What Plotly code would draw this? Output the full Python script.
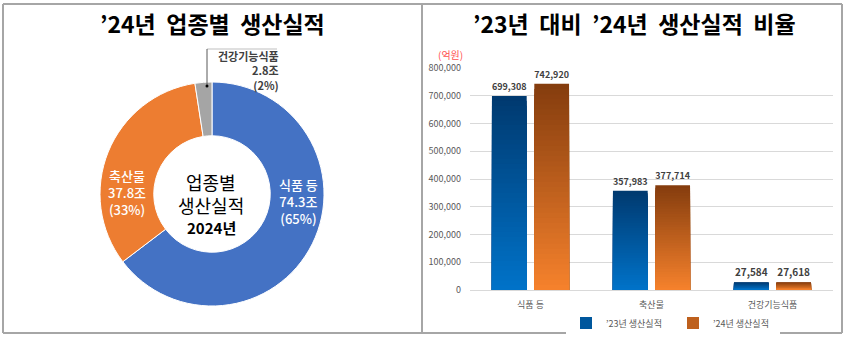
import plotly.graph_objects as go

# ---------------- data ----------------
pie_labels = ["식품 등", "축산물", "건강기능식품"]
pie_values = [74.3, 37.8, 2.8]          # 조원
pie_colors = ["#4472C4", "#ED7D31", "#A5A5A5"]

bar_categories = ["식품 등", "축산물", "건강기능식품"]
prod_2023 = [699308, 357983, 27584]     # 억원
prod_2024 = [742920, 377714, 27618]
series_names = ["’23년 생산실적", "’24년 생산실적"]

W, H = 850, 343
FONT = "Noto Sans CJK KR"


def px(x):
    return x / W


def py(y):
    return 1 - y / H


def lerp_color(c1, c2, t):
    a = [int(c1[i:i + 2], 16) for i in (1, 3, 5)]
    b = [int(c2[i:i + 2], 16) for i in (1, 3, 5)]
    return "rgb(%d,%d,%d)" % tuple(round(a[j] + (b[j] - a[j]) * t) for j in range(3))


fig = go.Figure()

# ---------------- donut ----------------
cx, cy, R = 212, 194, 112
fig.add_trace(go.Pie(
    labels=pie_labels, values=pie_values, hole=0.52, sort=False,
    direction="clockwise", rotation=0,
    marker=dict(colors=pie_colors, line=dict(color="white", width=1)),
    textinfo="none", showlegend=False, hoverinfo="label+value+percent",
    domain=dict(x=[px(cx - R), px(cx + R)], y=[py(cy + R), py(cy - R)]),
))

# ---------------- bars with vertical gradient ----------------
K = 40
grad = {
    0: ("#003A70", "#0072C8"),
    1: ("#853D0E", "#F5812C"),
}
for s, vals in enumerate([prod_2023, prod_2024]):
    top, bot = grad[s]
    for k in range(K):
        frac = (K - k) / K
        col = lerp_color(top, bot, k / (K - 1))
        fig.add_trace(go.Bar(
            x=bar_categories, y=[v * frac for v in vals],
            offsetgroup=str(s), name=series_names[s],
            marker=dict(color=col, line=dict(width=0)),
            showlegend=(k == K // 2), legendgroup=str(s),
            text=[f"{v:,}" for v in vals] if k == 0 else None,
            textposition="outside" if k == 0 else "none",
            textfont=dict(family=FONT, size=10, color="#404040", weight=700),
            cliponaxis=False, hoverinfo="skip" if k else "x+y",
            xaxis="x", yaxis="y",
        ))

fig.update_layout(
    width=W, height=H, margin=dict(l=0, r=0, t=0, b=0),
    paper_bgcolor="white", plot_bgcolor="white",
    font=dict(family=FONT, color="#595959"),
    barmode="group", bargap=0.3, bargroupgap=0.18,
    xaxis=dict(domain=[px(470), px(833)], showgrid=False, showline=False,
               ticks="", tickfont=dict(size=9, color="#595959"),
               ticklabelstandoff=8, fixedrange=True, automargin=False),
    yaxis=dict(domain=[py(290), py(68)], range=[0, 800000], dtick=100000,
               tickformat=",", showgrid=True, gridcolor="#D9D9D9", gridwidth=1,
               zeroline=True, zerolinecolor="#D9D9D9", zerolinewidth=1,
               showline=False, ticks="", ticklabelstandoff=8, automargin=False,
               tickfont=dict(size=9, color="#595959")),
    legend=dict(orientation="h", x=px(566), xanchor="left", y=py(323),
                yanchor="middle", font=dict(size=9, color="#595959"),
                itemwidth=30, entrywidth=62, traceorder="normal"),
)

P = dict(xref="paper", yref="paper", showarrow=False, xanchor="center", yanchor="middle")
ann = []
# titles
ann.append(dict(x=px(212), y=py(23), text="’24년  업종별  생산실적",
                font=dict(size=23, color="black", weight=700), **P))
ann.append(dict(x=px(634), y=py(23), text="’23년  대비  ’24년  생산실적  비율",
                font=dict(size=23, color="black", weight=700), **P))
# unit
ann.append(dict(x=px(450), y=py(55), text="(억원)",
                font=dict(size=10, color="#FF5050"), **P))
# donut labels
ann.append(dict(x=px(298), y=py(201), text="식품 등<br>74.3조<br>(65%)",
                font=dict(size=13, color="white", weight=500), align="center", **P))
ann.append(dict(x=px(127), y=py(192), text="축산물<br>37.8조<br>(33%)",
                font=dict(size=13, color="white", weight=500), align="center", **P))
ann.append(dict(x=px(248), y=py(70), text="건강기능식품<br>2.8조<br>(2%)",
                align="right", font=dict(size=11, color="#404040", weight=700), **P))
ann.append(dict(x=px(211), y=py(182), text="업종별",
                font=dict(size=18, color="black"), **P))
ann.append(dict(x=px(211), y=py(205), text="생산실적",
                font=dict(size=18, color="black"), **P))
ann.append(dict(x=px(211), y=py(227), text="2024년",
                font=dict(size=15, color="black", weight=700), **P))
fig.update_layout(annotations=ann)

shapes = []
border = dict(color="#A6A6A6", width=2)
# panel frames
shapes.append(dict(type="line", xref="paper", yref="paper", x0=px(3), x1=px(842), y0=py(4), y1=py(4), line=border))
shapes.append(dict(type="line", xref="paper", yref="paper", x0=px(3), x1=px(842), y0=py(333), y1=py(333), line=border))
shapes.append(dict(type="line", xref="paper", yref="paper", x0=px(3), x1=px(3), y0=py(4), y1=py(333), line=border))
shapes.append(dict(type="line", xref="paper", yref="paper", x0=px(842), x1=px(842), y0=py(4), y1=py(333), line=border))
shapes.append(dict(type="line", xref="paper", yref="paper", x0=px(422), x1=px(422), y0=py(4), y1=py(333), line=border))
# leader line for small slice
lead = dict(color="#595959", width=1)
shapes.append(dict(type="line", xref="paper", yref="paper", x0=px(207), x1=px(277), y0=py(49), y1=py(49),
                   line=dict(color="#BFBFBF", width=1)))
shapes.append(dict(type="line", xref="paper", yref="paper", x0=px(207), x1=px(207), y0=py(49), y1=py(86), line=lead))
shapes.append(dict(type="circle", xref="paper", yref="paper", x0=px(205.5), x1=px(208.5), y0=py(87.5), y1=py(84.5),
                   fillcolor="black", line=dict(width=0)))
fig.update_layout(shapes=shapes)

fig.write_html("out.html")
